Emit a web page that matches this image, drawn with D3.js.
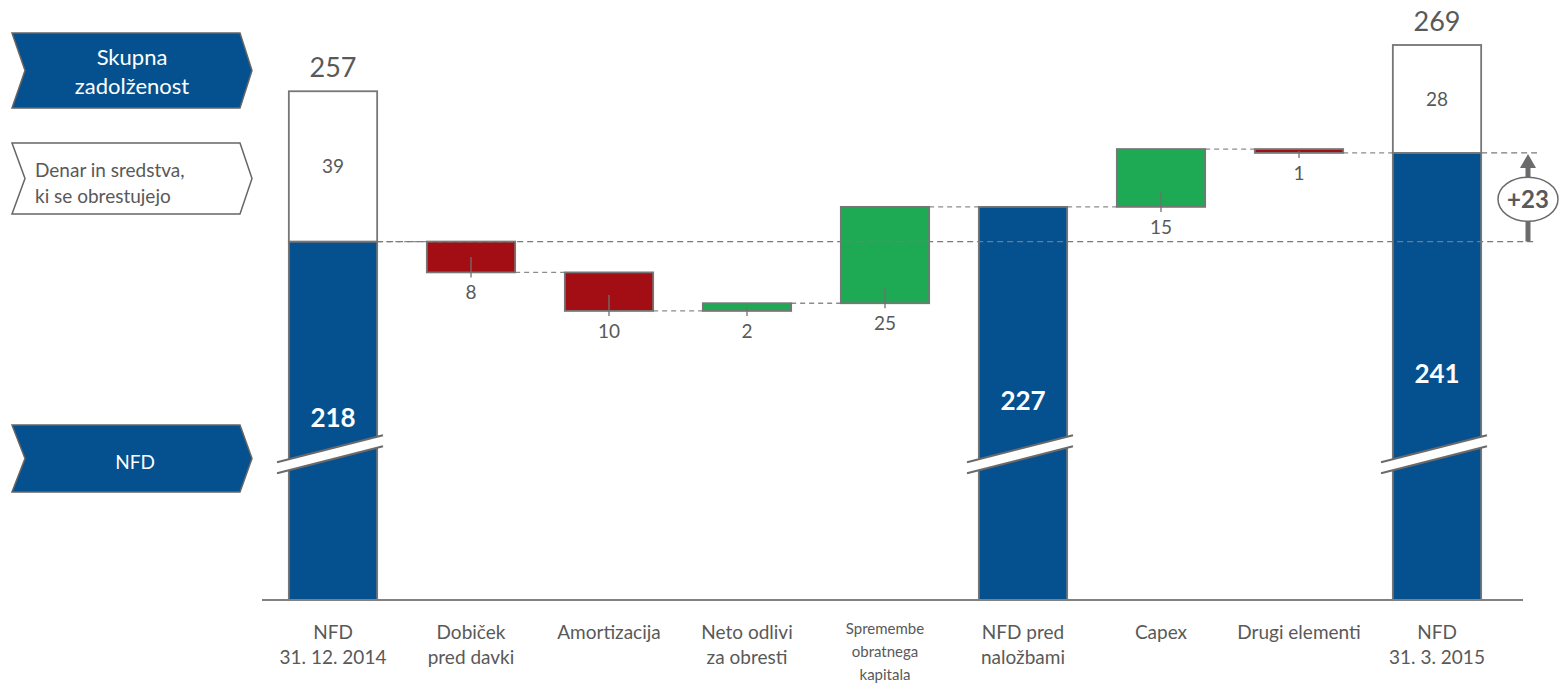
<!DOCTYPE html>
<html><head><meta charset="utf-8">
<script src="https://cdn.jsdelivr.net/npm/d3@7"></script>
<style>body{margin:0;background:#fff}svg{display:block;font-family:Lato,"Open Sans",sans-serif}</style>
</head><body><svg id="c" width="1559" height="685"></svg>
<script>
const categories = ["NFD|31. 12. 2014","Dobiček|pred davki","Amortizacija","Neto odlivi|za obresti","Spremembe|obratnega|kapitala","NFD pred|naložbami","Capex","Drugi elementi","NFD|31. 3. 2015"];
const kinds = ["total","dec","dec","inc","inc","total","inc","dec","total"];
const values = [218, 8, 10, 2, 25, 227, 15, 1, 241];
const cashValues = [39, null, null, null, null, null, null, null, 28];
const grossTotals = [257, null, null, null, null, null, null, null, 269];
const legendItems = ["Skupna|zadolženost","Denar in sredstva,|ki se obrestujejo","NFD"];
const axisMin = 125, axisMax = 269, breakValue = 163;

const BLUE="#05518F", RED="#A30E14", GREEN="#1EA955", EDGE="#767676", TXT="#595959";
const svg = d3.select("#c");
const x = d3.scaleBand().domain(categories).range([264,1506]).paddingInner(0.36).paddingOuter(0.18);
const y = d3.scaleLinear().domain([axisMin, axisMax]).range([600, 45]);
const bw = x.bandwidth();

let run = 0; const bars = [];
categories.forEach((c,i)=>{
  const k = kinds[i], v = values[i];
  if(k==="total"){ bars.push({c,k,v,y0:axisMin,y1:v,end:v,i}); run=v; }
  else if(k==="dec"){ bars.push({c,k,v,y0:run-v,y1:run,end:run-v,i}); run-=v; }
  else { bars.push({c,k,v,y0:run,y1:run+v,end:run+v,i}); run+=v; }
});

const g = svg.append("g");
for(let i=0;i<bars.length-1;i++){
  const b=bars[i], n=bars[i+1];
  g.append("line").attr("x1",x(b.c)+bw).attr("x2",x(n.c))
   .attr("y1",y(b.end)).attr("y2",y(b.end))
   .attr("stroke","#8c8c8c").attr("stroke-width",1.3).attr("stroke-dasharray","5,4");
}

bars.forEach(b=>{
  const fill = b.k==="total"?BLUE:(b.k==="dec"?RED:GREEN);
  g.append("rect").attr("x",x(b.c)).attr("width",bw)
   .attr("y",y(b.y1)).attr("height",Math.max(1,y(b.y0)-y(b.y1)))
   .attr("fill",fill).attr("stroke",EDGE).attr("stroke-width",1.8);
});
bars.forEach((b,i)=>{
  if(cashValues[i]==null) return;
  const top=b.v+cashValues[i];
  g.append("rect").attr("x",x(b.c)).attr("width",bw).attr("y",y(top)).attr("height",y(b.v)-y(top))
   .attr("fill","#fff").attr("stroke",EDGE).attr("stroke-width",1.8);
  g.append("text").attr("x",x(b.c)+bw/2).attr("y",(y(top)+y(b.v))/2).attr("dy","0.35em")
   .attr("text-anchor","middle").attr("fill",TXT).attr("font-size",19).text(cashValues[i]);
  g.append("text").attr("x",x(b.c)+bw/2).attr("y",y(grossTotals[i])-14)
   .attr("text-anchor","middle").attr("fill",TXT).attr("font-size",27).text(grossTotals[i]);
});

const refA = values[0], refB = values[values.length-1];
[refA, refB].forEach((v,j)=>{
  const b = j===0?bars[0]:bars[bars.length-1];
  g.append("line").attr("x1",x(b.c)+bw).attr("x2",1537).attr("y1",y(v)).attr("y2",y(v))
   .attr("stroke","#7a7a7a").attr("stroke-width",1.3).attr("stroke-dasharray","6,4");
});

bars.forEach(b=>{
  if(b.k==="total") return;
  const cx = x(b.c)+bw/2, bot=y(b.y0), top=y(b.y1);
  const start = Math.max(top+(bot-top)/2, bot-16);
  g.append("line").attr("x1",cx).attr("x2",cx).attr("y1",start).attr("y2",bot+5)
   .attr("stroke","#707070").attr("stroke-width",1.3);
  g.append("text").attr("x",cx).attr("y",bot+20).attr("dy","0.35em").attr("text-anchor","middle")
   .attr("fill",TXT).attr("font-size",19).text(b.v);
});

bars.forEach(b=>{
  if(b.k!=="total") return;
  g.append("text").attr("x",x(b.c)+bw/2).attr("y",(y(b.y1)+y(axisMin))/2 - 3).attr("dy","0.35em")
   .attr("text-anchor","middle").attr("fill","#fff").attr("font-size",26).attr("font-weight","bold").text(b.v);
});

bars.forEach(b=>{
  if(b.k!=="total") return;
  const cx=x(b.c)+bw/2, yc=y(breakValue), s=-0.255, h=5.5;
  const xl=cx-56, xr=cx+50;
  const pts=[[xl,yc-h+s*(xl-cx)],[xr,yc-h+s*(xr-cx)],[xr,yc+h+s*(xr-cx)],[xl,yc+h+s*(xl-cx)]];
  g.append("polygon").attr("points",pts.map(p=>p.join(",")).join(" ")).attr("fill","#fff");
  g.append("line").attr("x1",pts[0][0]).attr("y1",pts[0][1]).attr("x2",pts[1][0]).attr("y2",pts[1][1]).attr("stroke","#6a6a6a").attr("stroke-width",2);
  g.append("line").attr("x1",pts[3][0]).attr("y1",pts[3][1]).attr("x2",pts[2][0]).attr("y2",pts[2][1]).attr("stroke","#6a6a6a").attr("stroke-width",2);
});

const ax = svg.append("g").attr("transform",`translate(0,${y(axisMin)})`).call(d3.axisBottom(x).tickSize(0).tickFormat(""));
ax.select(".domain").attr("stroke","#808080").attr("stroke-width",2).attr("d","M262,0H1523");
categories.forEach((c,i)=>{
  const lines=c.split("|"); const small=lines.length>2;
  const t=svg.append("text").attr("text-anchor","middle").attr("fill",TXT).attr("font-size",small?15:19);
  lines.forEach((l,j)=>t.append("tspan").attr("x",x(c)+bw/2).attr("y",(small?634:639)+j*(small?23:25)).text(l));
});

const ax0=1528, yA=y(refA), yB=y(refB), ym=(yA+yB)/2+2;
svg.append("line").attr("x1",ax0).attr("x2",ax0).attr("y1",yA).attr("y2",yB+14).attr("stroke","#6b6b6b").attr("stroke-width",5);
svg.append("polygon").attr("points",`${ax0-8},${yB+15} ${ax0+8},${yB+15} ${ax0},${yB+1}`).attr("fill","#6b6b6b");
svg.append("ellipse").attr("cx",ax0).attr("cy",ym).attr("rx",30).attr("ry",22).attr("fill","#fff").attr("stroke","#6b6b6b").attr("stroke-width",1.5);
svg.append("text").attr("x",ax0).attr("y",ym).attr("dy","0.36em").attr("text-anchor","middle").attr("fill",TXT)
  .attr("font-size",24).attr("font-weight","bold").text("+"+(refB-refA));

function chevron(y0,y1,fill){
  const m=(y0+y1)/2;
  return svg.append("path").attr("d",`M12,${y0}H240L252,${m}L240,${y1}H12L25,${m}Z`)
   .attr("fill",fill).attr("stroke","#666").attr("stroke-width",1.5);
}
chevron(33,108,BLUE);
chevron(143,214,"#fff");
chevron(425,492,BLUE);
const l0=legendItems[0].split("|");
l0.forEach((l,j)=>svg.append("text").attr("x",132).attr("y",65+j*29).attr("text-anchor","middle").attr("fill","#fff").attr("font-size",22).text(l));
const l1=legendItems[1].split("|");
l1.forEach((l,j)=>svg.append("text").attr("x",35).attr("y",177+j*26).attr("fill",TXT).attr("font-size",19).text(l));
svg.append("text").attr("x",135).attr("y",462).attr("dy","0.35em").attr("text-anchor","middle").attr("fill","#fff").attr("font-size",19).text(legendItems[2]);
</script></body></html>
